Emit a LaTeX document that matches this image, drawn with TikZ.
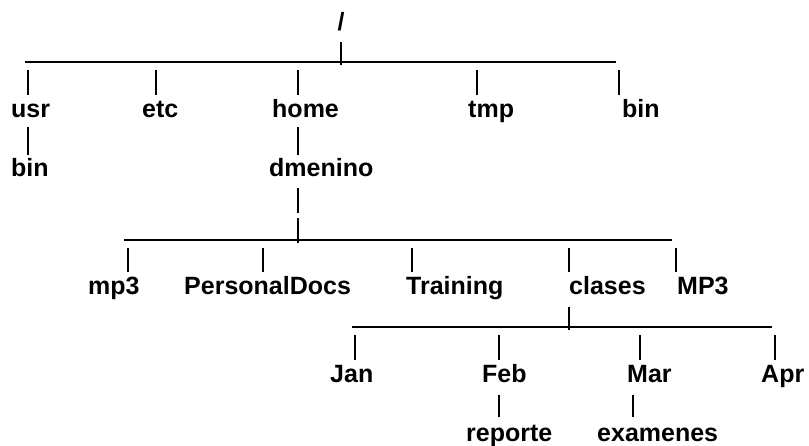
\documentclass[tikz,border=0pt]{standalone}
\usepackage{fontspec}
\setmainfont{Liberation Sans}
\begin{document}
\begin{tikzpicture}[x=1pt,y=-1pt,
	every node/.style={inner sep=0pt,anchor=base west,text height=18pt,text depth=5pt,
		font=\bfseries\fontsize{25}{30}\selectfont},
	rail/.style={line width=2.9pt},
	bar/.style={line width=2.7pt},
	tap/.style={bar,shorten <=8.5pt,shorten >=4.5pt},
	sub/.style={bar,shorten <=4.5pt,shorten >=4pt}]
		\useasboundingbox (0,0) rectangle (809,446);
		\node (root) [anchor=base] at (341,31) {/};
		\node (usr) at (11,117.5) {usr};
		\node (etc) at (142,117.5) {etc};
		\node (home) at (272,117.5) {home};
		\node (tmp) at (468,117.5) {tmp};
		\node (bin) at (622,117.5) {bin};
		\node (ubin) at (11,177) {bin};
		\node (dmen) at (269,177) {dmenino};
		\node (mp3) at (88,295) {mp3};
		\node (pdocs) at (184,295) {PersonalDocs};
		\node (train) at (406,295) {Training};
		\node (clases) at (569,295) {clases};
		\node (MP3) at (677,295) {MP3};
		\node (jan) at (330,383) {Jan};
		\node (feb) at (482,383) {Feb};
		\node (mar) at (627,383) {Mar};
		\node (apr) at (761,383) {Apr};
		\node (rep) at (466,441.5) {reporte};
		\node (exa) at (597,441.5) {examenes};
		\coordinate (r1a) at (25,62);
		\coordinate (r1b) at (616,62);
		\coordinate (r2a) at (124,240);
		\coordinate (r2b) at (672,240);
		\coordinate (r3a) at (352,327);
		\coordinate (r3b) at (772,327);
		\coordinate (tusr) at (28,62);
		\coordinate (tetc) at (156,62);
		\coordinate (thome) at (298,62);
		\coordinate (ttmp) at (477,62);
		\coordinate (tbin) at (619,62);
		\coordinate (tmp3) at (128,240);
		\coordinate (tpdocs) at (263,240);
		\coordinate (ttrain) at (412,240);
		\coordinate (tclases) at (569,240);
		\coordinate (tMP3) at (676,240);
		\coordinate (tjan) at (355,327);
		\coordinate (tfeb) at (499,327);
		\coordinate (tmar) at (640,327);
		\coordinate (tapr) at (775,327);
		\coordinate (texa) at (633,327);
		\draw[rail] (r1a) -- (r1b);
		\draw[rail] (r2a) -- (r2b);
		\draw[rail] (r3a) -- (r3b);
		\path[bar]
		(root.south) edge [shorten <=6pt,shorten >=-3pt] (root.south |- r1a)
		(thome |- dmen.south) edge [shorten <=6pt,shorten >=-1pt] (thome |- 0,212)
		(thome |- 0,218) edge [shorten >=-3pt] (thome |- r2a)
		(tclases |- clases.south) edge [shorten <=7pt,shorten >=-3pt] (tclases |- r3a);
		\path[tap]
		(tusr) edge (tusr |- usr.north)
		(tetc) edge (tetc |- etc.north)
		(thome) edge (thome |- home.north)
		(ttmp) edge (ttmp |- tmp.north)
		(tbin) edge (tbin |- bin.north)
		(tmp3) edge (tmp3 |- mp3.north)
		(tpdocs) edge (tpdocs |- pdocs.north)
		(ttrain) edge (ttrain |- train.north)
		(tclases) edge (tclases |- clases.north)
		(tMP3) edge (tMP3 |- MP3.north)
		(tjan) edge (tjan |- jan.north)
		(tfeb) edge (tfeb |- feb.north)
		(tmar) edge (tmar |- mar.north)
		(tapr) edge (tapr |- apr.north);
		\path[sub]
		(tusr |- usr.south) edge (tusr |- ubin.north)
		(thome |- home.south) edge (thome |- dmen.north)
		(tfeb |- feb.south) edge [shorten <=7pt,shorten >=6pt] (tfeb |- rep.north)
		(texa |- mar.south) edge [shorten <=7pt,shorten >=6pt] (texa |- exa.north);
	\end{tikzpicture}
\end{document}
